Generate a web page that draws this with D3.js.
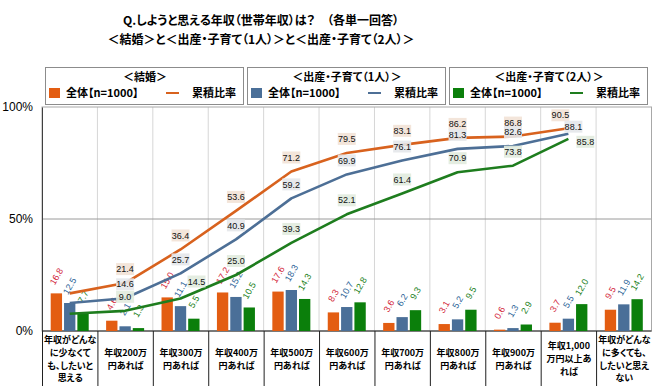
<!DOCTYPE html>
<html>
<head>
<meta charset="utf-8">
<script src="https://cdn.jsdelivr.net/npm/d3@7"></script>
<style>
  body { margin: 0; background: #fff; }
  svg { font-family: "Noto Sans CJK JP", "Noto Sans", sans-serif; font-feature-settings: "palt"; }
</style>
</head>
<body>
<div id="chart"></div>
<script>
// data
const categories = [
  ["年収がどんな", "に少なくて", "も、したいと", "思える"],
  ["年収200万", "円あれば"],
  ["年収300万", "円あれば"],
  ["年収400万", "円あれば"],
  ["年収500万", "円あれば"],
  ["年収600万", "円あれば"],
  ["年収700万", "円あれば"],
  ["年収800万", "円あれば"],
  ["年収900万", "円あれば"],
  ["年収1,000", "万円以上あ", "れば"],
  ["年収がどんな", "に多くても、", "したいと思え", "ない"]
]
const groupNames = ["＜結婚＞", "＜出産・子育て（1人）＞", "＜出産・子育て（2人）＞"]
const barLegend = "全体【n=1000】"
const lineLegend = "累積比率"

const marriage = [16.8, 4.6, 15.0, 17.2, 17.6, 8.3, 3.6, 3.1, 0.6, 3.7, 9.5]
const child1 = [12.5, 2.1, 11.1, 15.2, 18.3, 10.7, 6.2, 5.2, 1.3, 5.5, 11.9]
const child2 = [7.7, 1.3, 5.5, 10.5, 14.3, 12.8, 9.3, 9.5, 2.9, 12.0, 14.2]

const marriageCum = [16.8, 21.4, 36.4, 53.6, 71.2, 79.5, 83.1, 86.2, 86.8, 90.5]
const child1Cum = [12.5, 14.6, 25.7, 40.9, 59.2, 69.9, 76.1, 81.3, 82.6, 88.1]
const child2Cum = [7.7, 9.0, 14.5, 25.0, 39.3, 52.1, 61.4, 70.9, 73.8, 85.8]

const yTicks = [0, 50, 100]

const barSeries = [marriage, child1, child2]
const lineSeries = [marriageCum, child1Cum, child2Cum]

// styles
const barColors = ["#e35d12", "#4a6f98", "#0b7f0b"]
const lineColors = ["#d8621e", "#4d6f96", "#1e7d1e"]
const barLabelColors = ["#d3283c", "#2c6497", "#198019"]
const labelBg = ["#f2e2d6", "#e4e7ea", "#e1ebde"]

// a few line labels are nudged in the original
const labelNudge = {
  "2-2": [16, -17],
  "0-9": [-8, -13],
  "1-9": [5, -7],
  "2-9": [17, 3]
}

const W = 660, H = 386
const margin = { top: 107, right: 8.5, bottom: 55, left: 42 }
const width = W - margin.left - margin.right
const height = H - margin.top - margin.bottom

const svg = d3.select("#chart").append("svg")
  .attr("width", W)
  .attr("height", H)

// title
const title = svg.append("g")
  .attr("font-weight", "bold")
  .attr("font-size", "12px")
  .attr("text-anchor", "middle")
  .attr("fill", "#000")
title.append("text").attr("x", 261).attr("y", 25).text("Q.しようと思える年収（世帯年収）は？　（各単一回答）")
title.append("text").attr("x", 261).attr("y", 44).text("＜結婚＞と＜出産・子育て（1人）＞と＜出産・子育て（2人）＞")

// legend boxes
groupNames.forEach((name, i) => {
  const lx = 45 + i * 202
  const g = svg.append("g").attr("transform", "translate(" + lx + ",67)")
  g.append("rect")
    .attr("x", 0.5).attr("y", 0.5)
    .attr("width", 198).attr("height", 37)
    .attr("fill", "#fff")
    .attr("stroke", "#8c8c8c")
  g.append("text")
    .attr("x", 100).attr("y", 14)
    .attr("text-anchor", "middle")
    .attr("font-size", "11px").attr("font-weight", "bold")
    .text(name)
  g.append("rect")
    .attr("x", 4).attr("y", 21)
    .attr("width", 11).attr("height", 10)
    .attr("fill", barColors[i])
  g.append("text")
    .attr("x", 21).attr("y", 30)
    .attr("font-size", "11px").attr("font-weight", "bold")
    .text(barLegend)
  g.append("line")
    .attr("x1", 121).attr("x2", 134)
    .attr("y1", 26).attr("y2", 26)
    .attr("stroke", lineColors[i])
    .attr("stroke-width", 2)
  g.append("text")
    .attr("x", 147).attr("y", 30)
    .attr("font-size", "11px").attr("font-weight", "bold")
    .text(lineLegend)
})

const plot = svg.append("g")
  .attr("transform", "translate(" + margin.left + "," + margin.top + ")")

// scales
const x = d3.scaleBand()
  .domain(d3.range(categories.length))
  .range([0, width])
  .paddingInner(0)
  .paddingOuter(0)

const inner = d3.scaleBand()
  .domain(d3.range(3))
  .range([x.bandwidth() / 2 - 19, x.bandwidth() / 2 + 19])
  .paddingInner(0.15)

const y = d3.scaleLinear()
  .domain([0, 100])
  .range([height, 0])

// grid
plot.append("g")
  .selectAll("line")
  .data(d3.range(1, categories.length))
  .join("line")
  .attr("x1", d => x(d)).attr("x2", d => x(d))
  .attr("y1", 0).attr("y2", height)
  .attr("stroke", "#d6d6d6")

plot.append("line")
  .attr("x1", 0).attr("x2", width)
  .attr("y1", y(50)).attr("y2", y(50))
  .attr("stroke", "#9a9a9a")

plot.append("rect")
  .attr("x", 0).attr("y", 0)
  .attr("width", width).attr("height", height)
  .attr("fill", "none")
  .attr("stroke", "#a8a8a8")

// y axis
const yAxis = d3.axisLeft(y)
  .tickValues(yTicks)
  .tickSize(0)
  .tickPadding(9)
  .tickFormat(d => d + "%")

const yG = plot.append("g").call(yAxis)
yG.select(".domain").attr("stroke", "#404040")
yG.selectAll(".tick text")
  .attr("font-family", "Liberation Sans, Arial, sans-serif")
  .attr("font-size", "12px")
  .attr("fill", "#000")

// x axis: line plus separators with category labels below
plot.append("line")
  .attr("x1", 0).attr("x2", width)
  .attr("y1", height).attr("y2", height)
  .attr("stroke", "#202020")

plot.append("g")
  .selectAll("line")
  .data(d3.range(0, categories.length))
  .join("line")
  .attr("x1", d => x(d) + 0.5).attr("x2", d => x(d) + 0.5)
  .attr("y1", height).attr("y2", height + margin.bottom)
  .attr("stroke", "#202020")

// one text per line so the rows don't stack into each other
const catLabels = plot.append("g")
  .attr("font-size", "9px")
  .attr("font-weight", "bold")
  .attr("text-anchor", "middle")
  .selectAll("g")
  .data(categories)
  .join("g")
  .attr("transform", (d, i) => "translate(" + (x(i) + x.bandwidth() / 2 + 0.5) + "," + (height + 28) + ")")

catLabels.selectAll("text")
  .data(d => d.map((t, k) => ({ t: t, k: k, n: d.length })))
  .join("text")
  .attr("y", d => (d.k - (d.n - 1) / 2) * 12.8)
  .attr("dy", "0.35em")
  .text(d => d.t)

// bars
barSeries.forEach((vals, s) => {
  plot.append("g")
    .selectAll("rect")
    .data(vals)
    .join("rect")
    .attr("x", (d, i) => x(i) + inner(s))
    .attr("y", d => y(d))
    .attr("width", inner.bandwidth())
    .attr("height", d => height - y(d))
    .attr("fill", barColors[s])
})

// bar value labels (rotated)
barSeries.forEach((vals, s) => {
  plot.append("g")
    .selectAll("text")
    .data(vals)
    .join("text")
    .attr("transform", (d, i) => "translate(" + (x(i) + inner(s) + inner.bandwidth() / 2) + "," + (y(d) - 17) + ") rotate(-60)")
    .attr("text-anchor", "middle")
    .attr("dy", "0.35em")
    .attr("font-family", "Liberation Sans, Arial, sans-serif")
    .attr("font-size", "9px")
    .attr("fill", barLabelColors[s])
    .attr("stroke", "#fff")
    .attr("stroke-width", 2.5)
    .attr("paint-order", "stroke")
    .text(d => d.toFixed(1))
})

// cumulative lines
const line = d3.line()
  .x((d, i) => x(i) + x.bandwidth() / 2)
  .y(d => y(d))

lineSeries.forEach((vals, s) => {
  plot.append("path")
    .datum(vals)
    .attr("d", line)
    .attr("fill", "none")
    .attr("stroke", lineColors[s])
    .attr("stroke-width", 2.6)
    .attr("stroke-linejoin", "round")
})

// cumulative labels (first point equals bar value, so it's skipped)
lineSeries.forEach((vals, s) => {
  const lab = plot.append("g")
    .selectAll("g")
    .data(vals.map((v, i) => ({ v: v, i: i })).filter(d => d.i > 0))
    .join("g")
    .attr("transform", d => {
      const n = labelNudge[s + "-" + d.i] || [0, -14]
      return "translate(" + (x(d.i) + x.bandwidth() / 2 + n[0]) + "," + (y(d.v) + n[1]) + ")"
    })
  lab.append("rect")
    .attr("x", -9).attr("y", -6)
    .attr("width", 18).attr("height", 12)
    .attr("fill", labelBg[s])
    .attr("opacity", 0.9)
  lab.append("text")
    .attr("text-anchor", "middle")
    .attr("dy", "0.35em")
    .attr("font-family", "Liberation Sans, Arial, sans-serif")
    .attr("font-size", "9px")
    .attr("fill", "#111")
    .text(d => d.v.toFixed(1))
})
</script>
</body>
</html>
